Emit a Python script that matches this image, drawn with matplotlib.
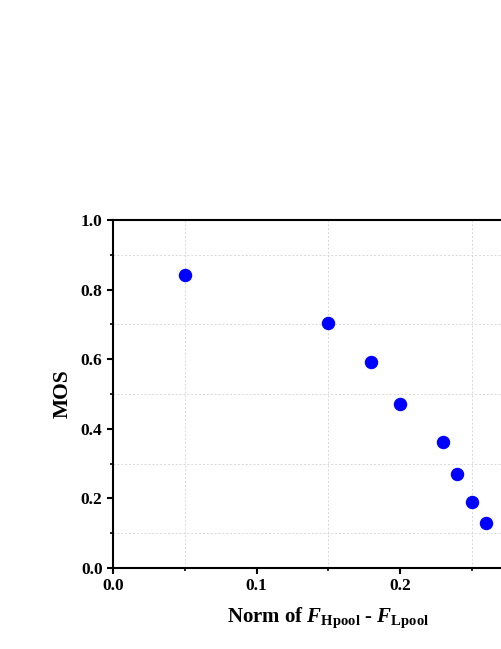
import numpy as np
import matplotlib
matplotlib.use("Agg")
import matplotlib.pyplot as plt
from matplotlib.ticker import MultipleLocator

# data
norm_diff = [0.05, 0.15, 0.18, 0.20, 0.23, 0.24, 0.25, 0.26]
mos = [0.843, 0.703, 0.591, 0.472, 0.363, 0.270, 0.191, 0.130]
x_ticks = [0.0, 0.1, 0.2]
y_ticks = [0.0, 0.2, 0.4, 0.6, 0.8, 1.0]

plt.rcParams["font.family"] = "Liberation Serif"
plt.rcParams["font.weight"] = "bold"
plt.rcParams["mathtext.fontset"] = "custom"
plt.rcParams["mathtext.rm"] = "Liberation Serif:bold"
plt.rcParams["mathtext.bf"] = "Liberation Serif:bold"
plt.rcParams["mathtext.it"] = "Liberation Serif:italic:bold"

fig = plt.figure(figsize=(5.01, 6.49), dpi=100)
# axes run past the right edge, as in the cropped original
ax = fig.add_axes([113 / 501, 81 / 649, 430.5 / 501, 348 / 649])

ax.scatter(norm_diff, mos, s=75, color="#0000ff", zorder=3, clip_on=False)

ax.set_xlim(0, 0.3)
ax.set_ylim(0, 1.0)
ax.set_xticks(x_ticks)
ax.set_yticks(y_ticks)
ax.xaxis.set_minor_locator(MultipleLocator(0.05))
ax.yaxis.set_minor_locator(MultipleLocator(0.1))
ax.xaxis.set_major_formatter(plt.FormatStrFormatter("%.1f"))
ax.yaxis.set_major_formatter(plt.FormatStrFormatter("%.1f"))

ax.grid(which="minor", linestyle=(0, (2, 2)), color="#d8d8d8", linewidth=0.7)
ax.set_axisbelow(True)

for side in ["left", "bottom", "top", "right"]:
    ax.spines[side].set_linewidth(1.5)
ax.tick_params(which="major", direction="out", length=4, width=1.5,
               labelsize=12.5, top=False, right=False)
ax.tick_params(which="minor", direction="out", length=2.5, width=1.2,
               top=False, right=False)
for lab in ax.get_xticklabels() + ax.get_yticklabels():
    lab.set_fontweight("bold")

ax.set_ylabel("MOS", fontsize=15.5, fontweight="bold", labelpad=6)
ax.set_xlabel(r"Norm of $\mathit{F}_{\mathbf{Hpool}}$ - $\mathit{F}_{\mathbf{Lpool}}$",
              fontsize=15, fontweight="bold", labelpad=8)

fig.savefig("out.png", dpi=100)
